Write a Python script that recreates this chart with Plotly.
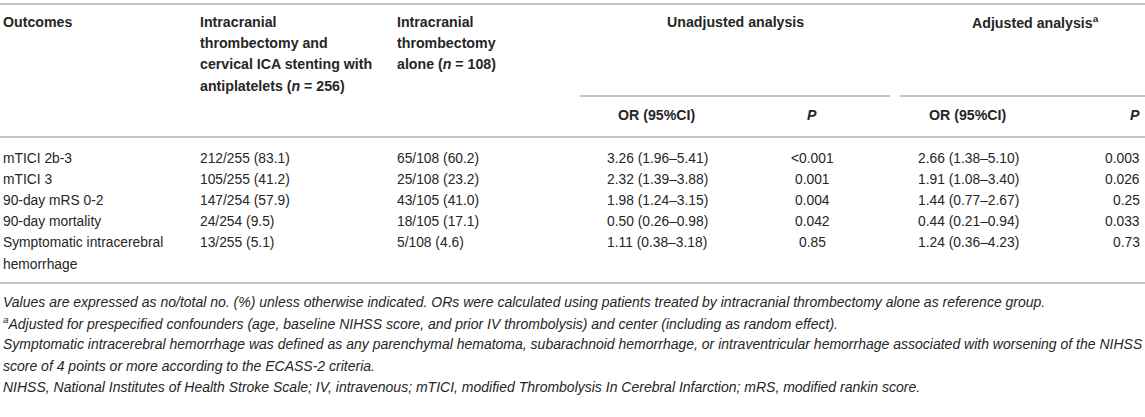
import plotly.graph_objects as go

# table content
outcomes = ["mTICI 2b-3", "mTICI 3", "90-day mRS 0-2", "90-day mortality",
            "Symptomatic intracerebral<br>hemorrhage"]
stenting = ["212/255 (83.1)", "105/255 (41.2)", "147/254 (57.9)", "24/254 (9.5)", "13/255 (5.1)"]
alone = ["65/108 (60.2)", "25/108 (23.2)", "43/105 (41.0)", "18/105 (17.1)", "5/108 (4.6)"]
unadj_or = ["3.26 (1.96–5.41)", "2.32 (1.39–3.88)", "1.98 (1.24–3.15)", "0.50 (0.26–0.98)", "1.11 (0.38–3.18)"]
unadj_p = ["<0.001", "0.001", "0.004", "0.042", "0.85"]
adj_or = ["2.66 (1.38–5.10)", "1.91 (1.08–3.40)", "1.44 (0.77–2.67)", "0.44 (0.21–0.94)", "1.24 (0.36–4.23)"]
adj_p = ["0.003", "0.026", "0.25", "0.033", "0.73"]

header_outcomes = ["Outcomes"]
header_stenting = ["Intracranial", "thrombectomy and", "cervical ICA stenting with",
                   "antiplatelets (<i>n</i> = 256)"]
header_alone = ["Intracranial", "thrombectomy", "alone (<i>n</i> = 108)"]
group_headers = ["Unadjusted analysis", "Adjusted analysis<sup>a</sup>"]
sub_headers = ["OR (95%CI)", "<i>P</i>", "OR (95%CI)", "<i>P</i>"]

footnotes = [
    "Values are expressed as no/total no. (%) unless otherwise indicated. ORs were calculated using patients treated by intracranial thrombectomy alone as reference group.",
    "<sup>a</sup>Adjusted for prespecified confounders (age, baseline NIHSS score, and prior IV thrombolysis) and center (including as random effect).",
    "Symptomatic intracerebral hemorrhage was defined as any parenchymal hematoma, subarachnoid hemorrhage, or intraventricular hemorrhage associated with worsening of the NIHSS",
    "score of 4 points or more according to the ECASS-2 criteria.",
    "NIHSS, National Institutes of Health Stroke Scale; IV, intravenous; mTICI, modified Thrombolysis In Cerebral Infarction; mRS, modified rankin score.",
]

W, H = 1145, 417
FONT = "Liberation Sans, Arial, Helvetica, sans-serif"
TXT = "#262626"
RULE = "#c4c4c4"
FS_HEAD = 14.2
FS_BODY = 13.8
FS_NOTE = 14
LH = 21.2

fig = go.Figure()
fig.update_xaxes(range=[0, W], visible=False, fixedrange=True)
fig.update_yaxes(range=[H, 0], visible=False, fixedrange=True)


def add_text(x, y, text, anchor="left", bold=False, italic=False, size=FS_BODY):
    if bold:
        text = "<b>" + text + "</b>"
    if italic:
        text = "<i>" + text + "</i>"
    fig.add_annotation(x=x, y=y, xref="x", yref="y", text=text, showarrow=False,
                       xanchor=anchor, yanchor="middle", align=anchor,
                       font=dict(family=FONT, size=size, color=TXT))


def add_rule(x0, x1, y):
    fig.add_shape(type="line", xref="x", yref="y", x0=x0, x1=x1, y0=y, y1=y,
                  line=dict(color=RULE, width=2))


# header
head_y = 22
for i, t in enumerate(header_outcomes):
    add_text(1, head_y + i * LH, t, bold=True, size=FS_HEAD)
for i, t in enumerate(header_stenting):
    add_text(198, head_y + i * LH, t, bold=True, size=FS_HEAD)
for i, t in enumerate(header_alone):
    add_text(395, head_y + i * LH, t, bold=True, size=FS_HEAD)
add_text(735, head_y, group_headers[0], anchor="center", bold=True, size=FS_HEAD)
add_text(1035, head_y, group_headers[1], anchor="center", bold=True, size=FS_HEAD)

sub_x = [657, 812, 968, 1142]
sub_anchor = ["center", "center", "center", "right"]
for x, a, t in zip(sub_x, sub_anchor, sub_headers):
    add_text(x, 115, t, anchor=a, bold=True, size=FS_HEAD)

# rules
add_rule(0, W, 4)
add_rule(580, 890, 96)
add_rule(900, W, 96)
add_rule(0, W, 137)
add_rule(0, W, 283)

# body
row_y0 = 158
for r in range(len(outcomes)):
    y = row_y0 + r * LH
    lines = outcomes[r].split("<br>")
    for k, ln in enumerate(lines):
        add_text(1, y + k * LH, ln)
    add_text(198, y, stenting[r])
    add_text(395, y, alone[r])
    add_text(sub_x[0], y, unadj_or[r], anchor="center")
    add_text(sub_x[1], y, unadj_p[r], anchor="center")
    add_text(sub_x[2], y, adj_or[r], anchor="center")
    add_text(sub_x[3], y, adj_p[r], anchor="right")

# footnotes
for i, t in enumerate(footnotes):
    add_text(1, 302 + i * LH, t, italic=True, size=FS_NOTE)

fig.update_layout(width=W, height=H, margin=dict(l=0, r=0, t=0, b=0),
                  paper_bgcolor="white", plot_bgcolor="white", showlegend=False)

fig.write_html("out.html", config={"displayModeBar": False},
               post_script="document.body.style.margin='0';")
